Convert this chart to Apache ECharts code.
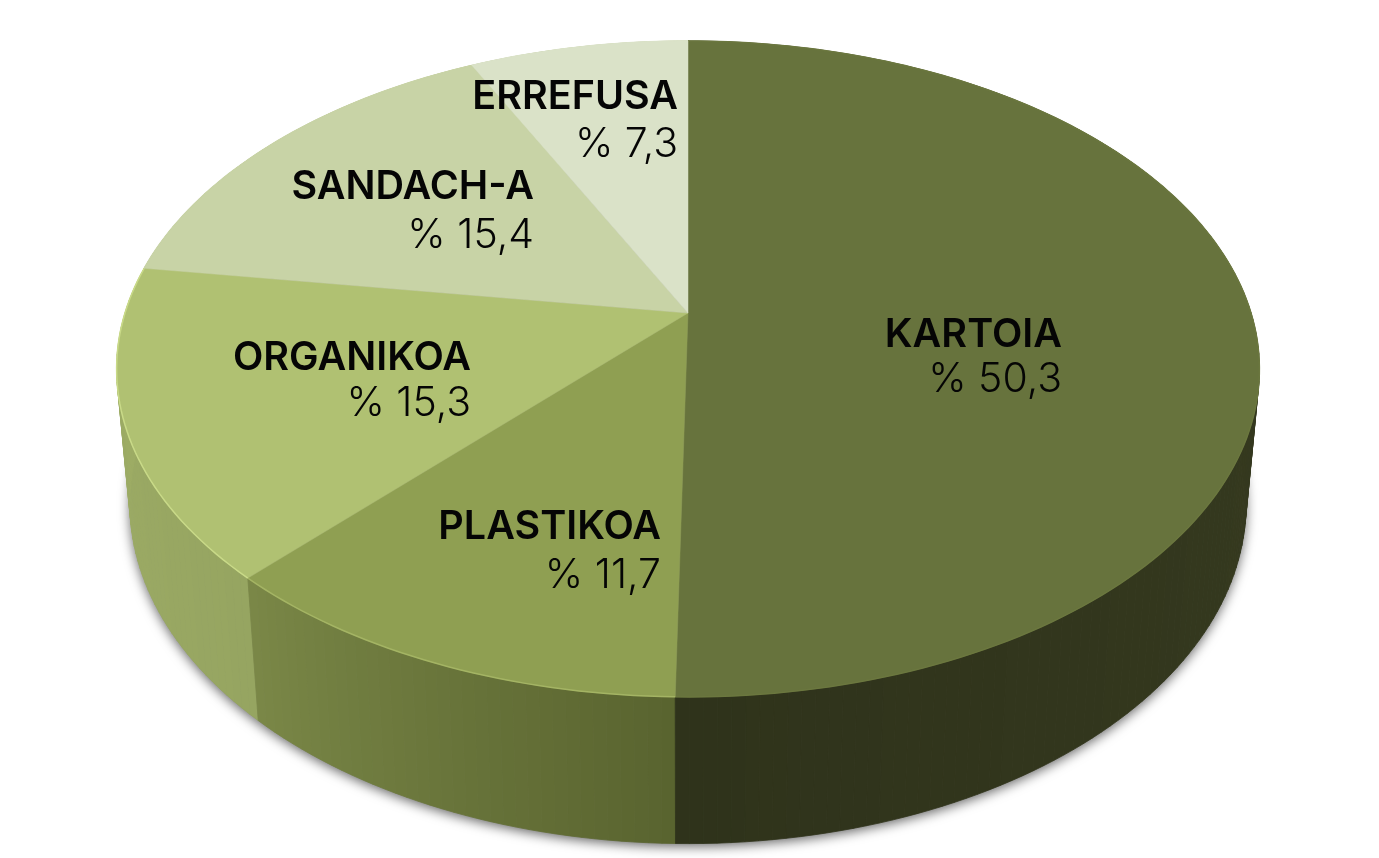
<!DOCTYPE html>
<html><head><meta charset="utf-8">
<style>html,body{margin:0;padding:0;background:#fff}#c{width:1379px;height:858px}</style>
<script src="https://cdn.jsdelivr.net/npm/echarts@6/dist/echarts.min.js"></script>
</head><body><div id="c"></div>
<script>
// data
const categories = ['KARTOIA', 'PLASTIKOA', 'ORGANIKOA', 'SANDACH-A', 'ERREFUSA'];
const values = [50.3, 11.7, 15.3, 15.4, 7.3];

// styles
const topColors = ['#67733d', '#8f9f52', '#b0c172', '#c8d3a6', '#dae2c8'];
const rimColors = ['#6b773f', '#a4b464', '#c9da88', '#c8d3a6', '#dae2c8'];
const wallStart = ['#2f331b', '#7a8847', '#9fae66', '#9fae66', '#9fae66'];
const wallEnd   = ['#3e4224', '#59632f', '#96a561', '#96a561', '#96a561'];
// label layout: right edge, name line centre, value line centre
const labelRight = [1062, 661, 471, 534, 678];
const labelNameY = [335, 527, 358, 187, 97];
const labelValueY = [380, 576, 404, 236, 145];

// projection of the disc (perspective ellipse)
const apex = [688, 313];
const topRing = {B: 563, A: 318.4, k: 0.1707, d: 0};
const baseRing = {B: 550, A: 330, k: 0.17, d: 133};
const total = values.reduce((a, b) => a + b, 0);
const starts = values.map((_, i) => values.slice(0, i).reduce((a, b) => a + b, 0));

function project(ring, pct) {
  const t = pct / total * Math.PI * 2;
  const x = Math.sin(t), y = Math.cos(t), w = 1 + ring.k * y;
  return [apex[0] + ring.B * x / w, apex[1] + ring.d - ring.A * y / w];
}
function arc(ring, from, to) {
  const n = Math.max(2, Math.ceil((to - from) * 3)), pts = [];
  for (let j = 0; j <= n; j++) pts.push(project(ring, from + (to - from) * j / n));
  return pts;
}
function mix(a, b, f) {
  const p = c => [1, 3, 5].map(i => parseInt(c.substr(i, 2), 16));
  const A = p(a), B = p(b);
  return 'rgb(' + A.map((v, i) => Math.round(v + (B[i] - v) * f)).join(',') + ')';
}
const rows = values.map((v, i) => [i, v, starts[i]]);

const option = {
  animation: false,
  backgroundColor: '#fff',
  series: [
    { // soft shadow under the base
      type: 'custom', coordinateSystem: 'none', silent: true, z: 1,
      data: [[0]],
      renderItem: () => ({
        type: 'polygon',
        shape: {points: arc(baseRing, 0, total)},
        style: {fill: '#8a8a8a', shadowBlur: 12, shadowColor: 'rgba(0,0,0,0.6)', shadowOffsetX: 0, shadowOffsetY: 3}
      })
    },
    { // side walls
      type: 'custom', coordinateSystem: 'none', silent: true, z: 2,
      data: rows.slice().reverse(),
      renderItem: (p, api) => {
        const i = api.value(0), v = api.value(1), s = api.value(2);
        const a = arc(topRing, s, s + v), b = arc(baseRing, s, s + v), children = [];
        for (let j = 0; j < a.length - 1; j++) {
          const c = mix(wallEnd[i], wallStart[i], (j + .5) / (a.length - 1));
          children.push({type: 'polygon', shape: {points: [a[j], a[j + 1], b[j + 1], b[j]]},
            style: {fill: c, stroke: c, lineWidth: 0.8}});
        }
        return {type: 'group', children};
      }
    },
    { // top faces
      type: 'custom', coordinateSystem: 'none', silent: true, z: 3,
      data: rows,
      renderItem: (p, api) => {
        const i = api.value(0), v = api.value(1), s = api.value(2);
        const rim = arc(topRing, s, s + v);
        return {type: 'group', children: [
          {type: 'polygon', shape: {points: [apex].concat(rim)}, style: {fill: topColors[i], stroke: topColors[i], lineWidth: 0.5}},
          {type: 'polyline', shape: {points: rim}, style: {fill: null, stroke: rimColors[i], lineWidth: 1.5}}
        ]};
      }
    },
    { // labels
      type: 'custom', coordinateSystem: 'none', silent: true, z: 4,
      data: rows,
      renderItem: (p, api) => {
        const i = api.value(0), v = api.value(1);
        return {type: 'group', children: [
          {type: 'text', style: {text: categories[i], x: labelRight[i], y: labelNameY[i], align: 'right', verticalAlign: 'middle',
            font: '600 39.5px Inter', fill: '#050505'}},
          {type: 'text', style: {text: '% ' + v.toFixed(1).replace('.', ','), x: labelRight[i], y: labelValueY[i], align: 'right', verticalAlign: 'middle',
            font: '300 41px Inter', fill: '#050505'}}
        ]};
      }
    }
  ]
};
echarts.init(document.getElementById('c')).setOption(option);
</script></body></html>
